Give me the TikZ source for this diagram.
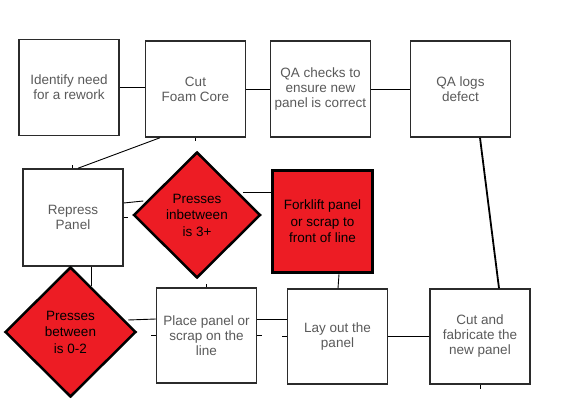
\documentclass[tikz,border=0pt]{standalone}
\usepackage{fontspec}
\setmainfont{Liberation Sans}
\usetikzlibrary{shapes.geometric,calc}
\definecolor{boxred}{HTML}{ED1C24}
\definecolor{txtgray}{HTML}{5A5A5A}
\definecolor{edge}{HTML}{2B2B2B}
\begin{document}
\begin{tikzpicture}[x=1pt,y=-1pt,
  wbox/.style={draw=edge,line width=1.5pt,fill=white,rectangle,minimum width=100pt,minimum height=96pt,
    inner sep=0pt,align=center,text=txtgray,font=\fontsize{13.5}{15}\selectfont},
  rbox/.style={draw=black,line width=3.5pt,fill=boxred,rectangle,minimum width=100pt,minimum height=102pt,
    inner sep=0pt,align=center,text=black,font=\fontsize{13.5}{16.5}\selectfont},
  rdia/.style={draw=black,line width=2.5pt,fill=boxred,diamond,minimum width=127pt,minimum height=126pt,
    inner sep=0pt,align=center,text=black,font=\fontsize{13.5}{16.5}\selectfont},
  conn/.style={draw=black,line width=0.9pt},
  thickconn/.style={draw=black,line width=1.8pt}]
\useasboundingbox (0,0) rectangle (583,414);
\fill[white] (0,0) rectangle (583,414);

\node[wbox] (b1) at (69,87.5) {Identify need\\for a rework};
\node[wbox] (b2) at (195.5,89) {Cut\\Foam Core};
\node[wbox] (b3) at (320.5,89) {QA checks to\\ensure new\\panel is correct};
\node[wbox] (b4) at (460.5,89) {QA logs\\defect};
\node[wbox,minimum height=97pt] (rep) at (73,217.5) {Repress\\Panel};
\node[rdia] (d1) at (197,215) {Presses\\inbetween\\is 3+};
\node[rbox] (fork) at (322.5,221.5) {Forklift panel\\or scrap to\\front of line};
\node[wbox,minimum height=95pt] (place) at (206.5,335.5) {Place panel or\\scrap on the\\line};
\node[wbox,minimum height=95pt] (lay) at (337.5,336.5) {Lay out the\\panel};
\node[wbox,minimum height=95pt] (cutfab) at (480,336.5) {Cut and\\fabricate the\\new panel};
\node[rdia,minimum width=131pt,minimum height=130pt] (d2) at (70.5,332) {Presses\\between\\is 0-2};

% top row
\draw[conn] (b1.east) -- (b2.west |- b1.east);
\draw[conn] (b2.east) -- (b3.west);
\draw[conn] (b3.east) -- (b4.west);
% Cut Foam Core -> Repress
\draw[conn] ([xshift=-35.5pt]b2.south) -- ([xshift=5pt]rep.north);
\draw[conn] (b2.south) -- ++(0,3);
\draw[conn] ([xshift=-1pt]rep.north) -- ++(0,-3);
% Repress -> diamond 1
\coordinate (d1in) at ([xshift=11pt,yshift=14pt]d1.west);
\draw[conn] ([yshift=14.5pt]rep.east) -- (d1in);
\draw[conn] (rep.east) -- ++(4,0);
% diamond 1 -> forklift
\coordinate (d1out) at ([xshift=-19pt,yshift=23pt]d1.east);
\draw[conn] (d1out) -- (fork.west |- d1out);
% forklift -> lay out
\draw[conn] ([xshift=16.5pt]fork.south) -- ([xshift=0.5pt]lay.north);
% QA logs -> cut and fabricate
\draw[thickconn] ([xshift=19.5pt]b4.south) -- ([xshift=19pt]cutfab.north);
% lay out -> cut and fabricate
\draw[conn] (lay.east) -- (cutfab.west);
\draw[conn] (cutfab.south) -- ++(0,4);
% place -> lay out
\draw[conn] ([yshift=16.5pt]place.east) -- ([yshift=17.5pt]lay.west);
\draw[conn] (place.east) -- ++(5,0);
\draw[conn] (lay.west) -- ++(-5,0);
% repress -> diamond 2
\coordinate (d2in) at ([xshift=18pt]rep.south |- 0,286);
\draw[conn] ([xshift=18pt]rep.south) -- (d2in);
% diamond 2 -> place
\coordinate (d2out) at ([xshift=-9pt,yshift=12pt]d2.east);
\draw[conn] (d2out) -- ([yshift=16.5pt]place.west);
\draw[conn] (place.west) -- ++(-5,0);
\draw[conn] (place.north) -- ++(0,-3);
\end{tikzpicture}
\end{document}
